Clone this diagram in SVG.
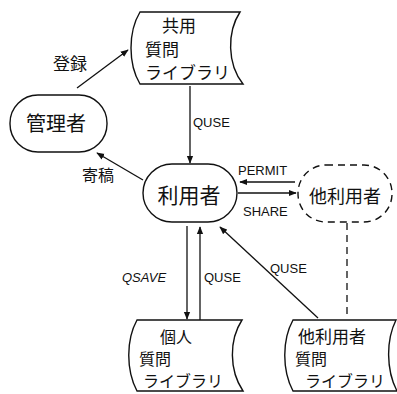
<svg xmlns="http://www.w3.org/2000/svg" width="397" height="394" viewBox="0 0 397 394">
<defs>
<marker id="ah" viewBox="0 0 10 10" refX="9" refY="5" markerWidth="8" markerHeight="8" markerUnits="userSpaceOnUse" orient="auto">
<path d="M0,1 L10,5 L0,9 Z" fill="#111"/>
</marker>
</defs>
<style>
.n{fill:#fff;stroke:#111;stroke-width:1.4}
.d{fill:#fff;stroke:#111;stroke-width:1.4;stroke-dasharray:7,5}
.c{fill:none;stroke:#111;stroke-width:1.3}
.jp{font-family:"Noto Sans CJK JP","Noto Sans",sans-serif;fill:#111}
.lb{font-family:"Liberation Sans","DejaVu Sans",sans-serif;font-size:13px;fill:#111}
</style>
<rect width="397" height="394" fill="#fff"/>
<g id="connectors">
<line class="c" x1="77" y1="88" x2="128" y2="50" marker-end="url(#ah)"/>
<line class="c" x1="190" y1="86" x2="190" y2="163" marker-end="url(#ah)"/>
<line class="c" x1="143" y1="180" x2="97" y2="153" marker-end="url(#ah)"/>
<line class="c" x1="295" y1="182" x2="240" y2="182" marker-end="url(#ah)"/>
<line class="c" x1="238" y1="193" x2="296" y2="193" marker-end="url(#ah)"/>
<line class="c" x1="187" y1="226" x2="187" y2="319" marker-end="url(#ah)"/>
<line class="c" x1="200" y1="320" x2="200" y2="227" marker-end="url(#ah)"/>
<line class="c" x1="318" y1="318" x2="220" y2="227" marker-end="url(#ah)"/>
<line class="c" x1="347" y1="223" x2="347" y2="319" stroke-dasharray="7,5"/>
<text class="jp" x="53" y="70" font-size="17">登録</text>
<text class="lb" x="193" y="127">QUSE</text>
<text class="jp" x="82" y="181" font-size="16">寄稿</text>
<text class="lb" x="238" y="175">PERMIT</text>
<text class="lb" x="243" y="216">SHARE</text>
<text class="lb" x="122" y="282" font-style="italic">QSAVE</text>
<text class="lb" x="204" y="282">QUSE</text>
<text class="lb" x="270" y="273">QUSE</text>
</g>
<g id="shared-lib">
<path class="n" d="M140,12 L240,12 C227,32 227,64 243,84 L140,84 C128,64 128,32 140,12 Z"/>
<text class="jp" x="162" y="32" font-size="17">共用</text>
<text class="jp" x="145" y="56" font-size="17">質問</text>
<text class="jp" x="145" y="79" font-size="17">ライブラリ</text>
</g>
<g id="admin">
<rect class="n" x="10" y="95" width="97" height="57" rx="28"/>
<text class="jp" x="56" y="131" font-size="20" text-anchor="middle">管理者</text>
</g>
<g id="user">
<rect class="n" x="143" y="164" width="94" height="58" rx="29"/>
<text class="jp" x="189" y="203" font-size="21" text-anchor="middle">利用者</text>
</g>
<g id="other-user">
<rect class="d" x="298" y="165" width="94" height="57" rx="28"/>
<text class="jp" x="345" y="203" font-size="18" text-anchor="middle">他利用者</text>
</g>
<g id="personal-lib">
<path class="n" d="M137,320 L242,320 C229,340 229,370 243,391 L137,391 C126,370 126,340 137,320 Z"/>
<text class="jp" x="160" y="343" font-size="16">個人</text>
<text class="jp" x="139" y="365" font-size="16">質問</text>
<text class="jp" x="143" y="387" font-size="16">ライブラリ</text>
</g>
<g id="other-lib">
<path class="n" d="M293,320 L396,320 C386,340 386,370 397,391 L293,391 C282,370 282,340 293,320 Z"/>
<text class="jp" x="298" y="343" font-size="17">他利用者</text>
<text class="jp" x="295" y="365" font-size="16">質問</text>
<text class="jp" x="305" y="387" font-size="16">ライブラリ</text>
</g>
</svg>
